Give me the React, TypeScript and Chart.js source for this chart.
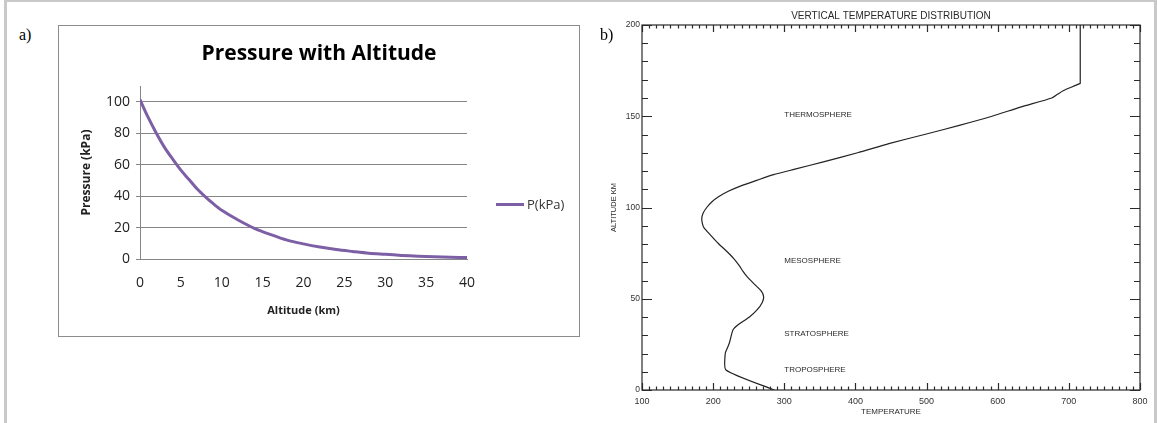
import React, { useEffect, useRef } from 'react';
import { Chart, registerables } from 'chart.js';

Chart.register(...registerables);

// ---------- Panel a data ----------
const chartTitleA = 'Pressure with Altitude';
const xTitleA = 'Altitude (km)';
const yTitleA = 'Pressure (kPa)';
const seriesNameA = 'P(kPa)';
const altitudeKm = [0, 1, 2, 3, 4, 5, 6, 7, 8, 9, 10, 12, 14, 16, 18, 20, 22, 24, 26, 28, 30, 32, 34, 36, 38, 40];
const pressureKPa = [101.3, 90, 80, 71, 63.5, 56.5, 50.5, 44.5, 39.5, 35, 31, 24.8, 19.5, 15.5, 12, 9.6, 7.6, 6, 4.8, 3.7, 3, 2.3, 1.8, 1.5, 1.1, 0.9];
const pressureTickValues = [0, 20, 40, 60, 80, 100];

// ---------- Panel b data ----------
const chartTitleB = 'VERTICAL TEMPERATURE DISTRIBUTION';
const xTitleB = 'TEMPERATURE';
const yTitleB = 'ALTITUDE KM';
const profileAltKm = [0, 11, 20, 23, 26, 33, 36, 40, 44, 48, 51, 54, 58, 62, 65, 68, 72, 76, 80, 85, 89, 91, 94, 97, 100, 103, 106, 109, 112, 115, 118, 121, 125, 130, 135, 140, 145, 150, 155, 160, 162, 164, 168, 168.5, 200];
const profileTempK = [286, 218, 217, 220, 223, 228, 236, 251, 262, 269, 271, 268, 258, 248, 242, 237, 229, 219, 208, 196, 187, 185, 184, 186, 191, 198, 208, 222, 240, 262, 285, 315, 355, 403, 447, 497, 546, 592, 632, 676, 684, 692, 716, 716, 716];
const regionNames = ['THERMOSPHERE', 'MESOSPHERE', 'STRATOSPHERE', 'TROPOSPHERE'];
const regionAltKm = [151, 71, 31, 11];
const regionTempK = [300, 300, 300, 300];

function PanelA() {
  const ref = useRef<HTMLCanvasElement>(null);
  useEffect(() => {
    if (!ref.current) return;
    const titlePlugin = {
      id: 'titleA',
      afterDraw(chart: any) {
        const ctx = chart.ctx;
        ctx.save();
        ctx.font = 'bold 21px "Open Sans"';
        ctx.fillStyle = '#000';
        ctx.textAlign = 'center';
        ctx.textBaseline = 'middle';
        ctx.fillText(chartTitleA, chart.width / 2, 28);
        ctx.restore();
      },
    };
    const chart = new Chart(ref.current, {
      type: 'line',
      data: {
        datasets: [
          {
            label: seriesNameA,
            data: altitudeKm.map((x, i) => ({ x, y: pressureKPa[i] })),
            borderColor: '#7D5FA6',
            borderWidth: 3,
            pointRadius: 0,
            tension: 0.3,
            fill: false,
          },
        ],
      },
      options: {
        animation: false,
        responsive: false,
        devicePixelRatio: 1,
        layout: { padding: { top: 60, right: 112, left: 0, bottom: 0 } },
        plugins: { legend: { display: false }, title: { display: false }, tooltip: { enabled: false } },
        scales: {
          x: {
            type: 'linear',
            min: 0,
            max: 40,
            afterFit: (s: any) => { s.height = 77; },
            ticks: { stepSize: 5, autoSkip: false, maxRotation: 0, padding: 16, color: '#222', font: { family: 'Open Sans', size: 14 } },
            grid: { display: false, drawTicks: false },
            border: { display: true, color: '#868686' },
            title: { display: true, text: xTitleA, color: '#222', font: { family: 'Open Sans', size: 11, weight: 'bold' }, padding: { top: 0, bottom: 19 } },
          },
          y: {
            type: 'linear',
            min: 0,
            max: 110,
            afterFit: (s: any) => { s.width = 81; },
            afterBuildTicks: (s: any) => { s.ticks = pressureTickValues.map((v) => ({ value: v })); },
            ticks: { stepSize: 20, padding: 6, color: '#222', font: { family: 'Open Sans', size: 14 } },
            grid: { color: '#868686', lineWidth: 1, drawTicks: true, tickLength: 4 },
            border: { display: true, color: '#868686' },
            title: { display: true, text: yTitleA, color: '#222', font: { family: 'Open Sans', size: 12, weight: 'bold' }, padding: { top: 20, bottom: 0 } },
          },
        },
      },
      plugins: [titlePlugin],
    } as any);
    return () => chart.destroy();
  }, []);
  return <canvas ref={ref} width={520} height={310} style={{ position: 'absolute', left: 59, top: 26, width: 520, height: 310 }} />;
}

function PanelB() {
  const ref = useRef<HTMLCanvasElement>(null);
  useEffect(() => {
    if (!ref.current) return;
    const framePlugin = {
      id: 'frameB',
      afterDatasetsDraw(chart: any) {
        const { ctx, chartArea, scales } = chart;
        const { left, right, top, bottom } = chartArea;
        const x = scales.x;
        const y = scales.y;
        ctx.save();
        ctx.strokeStyle = '#2a2a2a';
        ctx.lineWidth = 1.2;
        ctx.strokeRect(left, top, right - left, bottom - top);
        ctx.beginPath();
        for (let t = x.min; t <= x.max; t += 10) {
          const px = Math.round(x.getPixelForValue(t)) + 0.5;
          const len = t % 100 === 0 ? 7 : 3.5;
          ctx.moveTo(px, bottom);
          ctx.lineTo(px, bottom - len);
          ctx.moveTo(px, top);
          ctx.lineTo(px, top + len);
        }
        for (let a = y.min; a <= y.max; a += 10) {
          const py = Math.round(y.getPixelForValue(a)) + 0.5;
          const len = a % 50 === 0 ? 10 : 6;
          ctx.moveTo(left, py);
          ctx.lineTo(left + len, py);
          ctx.moveTo(right, py);
          ctx.lineTo(right - len, py);
        }
        ctx.stroke();
        ctx.fillStyle = '#2a2a2a';
        ctx.font = '8px "Liberation Sans"';
        ctx.textAlign = 'left';
        ctx.textBaseline = 'middle';
        regionNames.forEach((n, i) => {
          ctx.fillText(n, x.getPixelForValue(regionTempK[i]), y.getPixelForValue(regionAltKm[i]));
        });
        ctx.font = '10px "Liberation Sans"';
        ctx.textAlign = 'center';
        ctx.fillText(chartTitleB, (left + right) / 2, 16);
        ctx.restore();
      },
    };
    const chart = new Chart(ref.current, {
      type: 'scatter',
      data: {
        datasets: [
          {
            label: 'T',
            data: profileAltKm.map((a, i) => ({ x: profileTempK[i], y: a })),
            showLine: true,
            borderColor: '#222',
            borderWidth: 1.2,
            pointRadius: 0,
            tension: 0.2,
          },
        ],
      },
      options: {
        animation: false,
        responsive: false,
        devicePixelRatio: 1,
        layout: { padding: { top: 25, right: 14, left: 0, bottom: 0 } },
        plugins: { legend: { display: false }, title: { display: false }, tooltip: { enabled: false } },
        scales: {
          x: {
            type: 'linear',
            min: 100,
            max: 800,
            afterFit: (s: any) => { s.height = 33; },
            ticks: { stepSize: 100, autoSkip: false, maxRotation: 0, padding: 6, color: '#333', font: { family: 'Liberation Sans', size: 9 } },
            grid: { display: false, drawTicks: false },
            border: { display: false },
            title: { display: true, text: xTitleB, color: '#2a2a2a', font: { family: 'Liberation Sans', size: 8 }, padding: { top: 0, bottom: 6 } },
          },
          y: {
            type: 'linear',
            min: 0,
            max: 200,
            afterFit: (s: any) => { s.width = 52; },
            ticks: { stepSize: 50, padding: 2, color: '#333', font: { family: 'Liberation Sans', size: 8.5 } },
            grid: { display: false, drawTicks: false },
            border: { display: false },
            title: { display: true, text: yTitleB, color: '#2a2a2a', font: { family: 'Liberation Sans', size: 7.5 }, padding: { top: 19, bottom: 0 } },
          },
        },
      },
      plugins: [framePlugin],
    } as any);
    return () => chart.destroy();
  }, []);
  return <canvas ref={ref} width={564} height={423} style={{ position: 'absolute', left: 590, top: 0, width: 564, height: 423 }} />;
}

export default function App() {
  return (
    <div style={{ position: 'fixed', left: 0, top: 0, width: 1158, height: 423, background: '#fff', overflow: 'hidden' }}>
      <div style={{ position: 'absolute', left: 58, top: 25, width: 522, height: 312, boxSizing: 'border-box', border: '1px solid #8c8c8c' }} />
      <PanelA />
      <PanelB />
      <div style={{ position: 'absolute', left: 496, top: 203, width: 28, height: 3, background: '#7D5FA6' }} />
      <div style={{ position: 'absolute', left: 527, top: 195, fontFamily: 'Open Sans', fontSize: 13, lineHeight: '18px', color: '#333' }}>{seriesNameA}</div>
      <div style={{ position: 'absolute', left: 19, top: 25, fontFamily: 'Liberation Serif', fontSize: 16, lineHeight: '20px', color: '#000' }}>a)</div>
      <div style={{ position: 'absolute', left: 600, top: 25, fontFamily: 'Liberation Serif', fontSize: 16, lineHeight: '20px', color: '#000' }}>b)</div>
      <div style={{ position: 'absolute', left: 4, top: -1, width: 1153, height: 430, boxSizing: 'border-box', border: '3px solid #c9c9c9', borderBottom: 'none' }} />
    </div>
  );
}
